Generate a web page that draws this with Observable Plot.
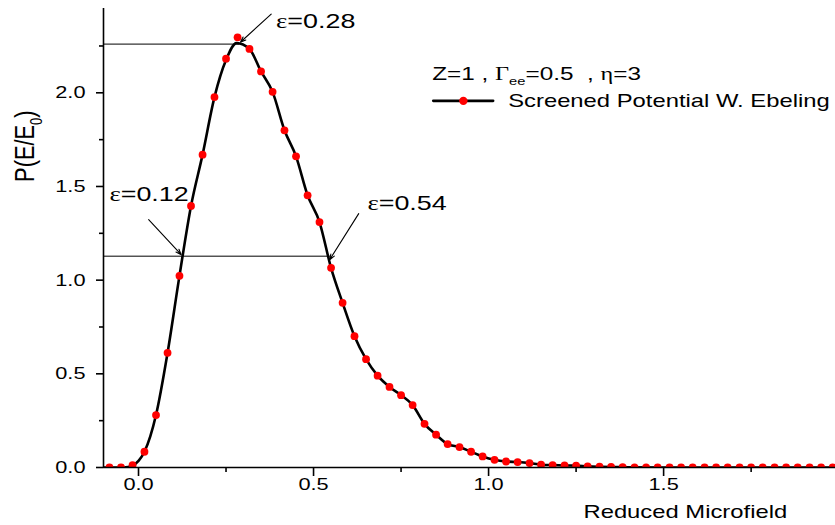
<!DOCTYPE html>
<html>
<head>
<meta charset="utf-8">
<script src="https://cdn.jsdelivr.net/npm/d3@7"></script>
<script src="https://cdn.jsdelivr.net/npm/@observablehq/plot@0.6"></script>
<style>
  html, body { margin: 0; padding: 0; background: #fff; }
  #chart { width: 835px; height: 525px; }
</style>
</head>
<body>
<div id="chart"></div>
<script>
// ---- data ----
const dotX = [-0.083, -0.05, -0.017, 0.017, 0.05, 0.083, 0.117, 0.15, 0.183, 0.217,
  0.25, 0.283, 0.317, 0.35, 0.383, 0.417, 0.45, 0.483, 0.517, 0.55,
  0.583, 0.617, 0.65, 0.683, 0.717, 0.75, 0.783, 0.817, 0.85, 0.883,
  0.917, 0.95, 0.983, 1.017, 1.05, 1.083, 1.117, 1.15, 1.183, 1.217,
  1.25, 1.283, 1.317, 1.35, 1.383, 1.417, 1.45, 1.483, 1.517, 1.55,
  1.583, 1.617, 1.65, 1.683, 1.717, 1.75, 1.783, 1.817, 1.85, 1.883,
  1.917, 1.95, 1.983];
const dotY = [0, 0, 0.012, 0.084, 0.28, 0.612, 1.023, 1.396, 1.670, 1.977,
  2.182, 2.296, 2.234, 2.114, 2.005, 1.80, 1.661, 1.453, 1.310, 1.066,
  0.879, 0.701, 0.578, 0.490, 0.430, 0.386, 0.333, 0.233, 0.175, 0.125,
  0.109, 0.084, 0.059, 0.041, 0.032, 0.029, 0.0235, 0.015, 0.013, 0.011,
  0.010, 0.006, 0.004, 0.003, 0.002, 0.001, 0.001, 0, 0, 0,
  0, 0, 0, 0, 0, 0, 0, 0, 0, 0,
  0, 0, 0];

const lineX = [-0.1, -0.06, -0.03, -0.017, 0, 0.017, 0.05, 0.083, 0.117, 0.15, 0.183, 0.217,
  0.25, 0.28, 0.317, 0.35, 0.383, 0.417, 0.45, 0.483, 0.517, 0.55,
  0.583, 0.617, 0.65, 0.683, 0.717, 0.75, 0.783, 0.817, 0.85, 0.883,
  0.917, 0.95, 0.983, 1.017, 1.05, 1.083, 1.117, 1.15, 1.183, 1.217,
  1.25, 1.283, 1.317, 1.35, 1.4, 1.5, 2.0];
const lineY = [0, 0, 0.003, 0.01, 0.035, 0.084, 0.28, 0.612, 1.023, 1.396, 1.670, 1.977,
  2.175, 2.265, 2.234, 2.114, 2.005, 1.80, 1.661, 1.453, 1.310, 1.066,
  0.879, 0.701, 0.578, 0.490, 0.430, 0.386, 0.333, 0.233, 0.175, 0.125,
  0.109, 0.084, 0.059, 0.041, 0.032, 0.029, 0.0235, 0.015, 0.013, 0.011,
  0.010, 0.006, 0.004, 0.003, 0.001, 0, 0];

const xTicks = [0, 0.5, 1.0, 1.5];
const xMinor = [0.25, 0.75, 1.25, 1.75];
const yTicks = [0, 0.5, 1.0, 1.5, 2.0];
const yMinor = [0.25, 0.75, 1.25, 1.75, 2.25];

// annotations: level lines, arrows and labels
const levelY = [2.26, 1.128];
const levelEnd = [0.29, 0.548];
const epsLabels = ["ε=0.28", "ε=0.12", "ε=0.54"];
const epsLabelX = [0.393, -0.083, 0.654];
const epsLabelY = [2.344, 1.422, 1.376];
const arrowX1 = [0.379, 0.029, 0.629];
const arrowY1 = [2.42, 1.323, 1.355];
const arrowX2 = [0.291, 0.122, 0.546];
const arrowY2 = [2.27, 1.136, 1.109];

const legendTitle = "Z=1 , Γee=0.5  , η=3";
const seriesName = "Screened Potential W. Ebeling";
const xLabel = "Reduced Microfield";
const yLabel = "P(E/E0)";

// ---- build tables ----
const dots = dotX.map((x, i) => ({x, y: dotY[i]}));
const curve = lineX.map((x, i) => ({x, y: lineY[i]}));
const levels = levelY.map((y, i) => ({y, x2: levelEnd[i]}));
const arrows = epsLabels.map((t, i) => ({t, lx: epsLabelX[i], ly: epsLabelY[i],
  x1: arrowX1[i], y1: arrowY1[i], x2: arrowX2[i], y2: arrowY2[i]}));
const fmt = d3.format(".1f");

const plot = Plot.plot({
  width: 835,
  height: 525,
  marginLeft: 103,
  marginRight: 0,
  marginTop: 8,
  marginBottom: 58,
  style: {fontFamily: "Liberation Sans, Arial, sans-serif", fontSize: "17px", background: "#fff", color: "#000"},
  x: {domain: [-0.1, 1.991]},
  y: {domain: [0, 2.45]},
  marks: [
    Plot.ruleY(levels, {y: "y", x1: -0.1, x2: "x2", stroke: "#000", strokeWidth: 1}),
    Plot.line(curve, {x: "x", y: "y", curve: "monotone-x", stroke: "#000", strokeWidth: 2.6, clip: true}),
    Plot.dot(dots, {x: "x", y: "y", r: 3.9, fill: "#ff0000", stroke: "none", clip: true}),
    Plot.arrow(arrows, {x1: "x1", y1: "y1", x2: "x2", y2: "y2", stroke: "#000", strokeWidth: 1.1, headLength: 8, headAngle: 40}),
    Plot.text(arrows, {x: "lx", y: "ly", text: "t", textAnchor: "start", lineAnchor: "bottom", fontSize: 21, fill: "#000"}),
    // axes
    Plot.ruleY([0], {stroke: "#000", strokeWidth: 1.6}),
    Plot.ruleX([-0.1], {stroke: "#000", strokeWidth: 1.6}),
    Plot.axisX({ticks: xTicks, tickSize: 9, tickPadding: 1, tickFormat: fmt, label: null, strokeWidth: 1.6, fontSize: 17}),
    Plot.axisX({ticks: xMinor, tickSize: 5, tickFormat: () => "", label: null, strokeWidth: 1.6}),
    Plot.axisY({ticks: yTicks, tickSize: 7, tickPadding: 11, tickFormat: fmt, label: null, strokeWidth: 1.6, fontSize: 17}),
    Plot.axisY({ticks: yMinor, tickSize: 4, tickFormat: () => "", label: null, strokeWidth: 1.6}),
    Plot.text([xLabel], {x: 1.271, frameAnchor: "bottom", dy: 50, textAnchor: "start", lineAnchor: "bottom", fontSize: 18.6, fill: "#000"}),
    Plot.text([yLabel], {frameAnchor: "left", y: 1.715, dx: -71, rotate: -90, textAnchor: "middle", lineAnchor: "bottom", fontSize: 21.8, fill: "#000"}),
    // legend
    Plot.text([legendTitle], {x: 0.839, y: 2.066, textAnchor: "start", lineAnchor: "bottom", fontSize: 19, fill: "#000"}),
    Plot.line([{x: 0.842, y: 1.957}, {x: 1.013, y: 1.957}], {x: "x", y: "y", stroke: "#000", strokeWidth: 2.6}),
    Plot.dot([{x: 0.928, y: 1.957}], {x: "x", y: "y", r: 4.2, fill: "#ff0000", stroke: "none"}),
    Plot.text([seriesName], {x: 1.056, y: 1.923, textAnchor: "start", lineAnchor: "bottom", fontSize: 18.6, fill: "#000"})
  ]
});

document.getElementById("chart").appendChild(plot);

// ---- rich text (Greek letters in serif, subscripts) ----
const NS = "http://www.w3.org/2000/svg";
function setRich(t, parts) {
  while (t.firstChild) t.removeChild(t.firstChild);
  t.setAttributeNS("http://www.w3.org/XML/1998/namespace", "xml:space", "preserve");
  t.style.whiteSpace = "pre";
  let shift = 0;
  for (const p of parts) {
    const ts = document.createElementNS(NS, "tspan");
    ts.textContent = p.s;
    if (p.serif) ts.setAttribute("font-family", "Liberation Serif, Times New Roman, serif");
    if (p.size) ts.setAttribute("font-size", p.size);
    const target = p.sub || 0;
    if (target !== shift) { ts.setAttribute("dy", target - shift); shift = target; }
    t.appendChild(ts);
  }
}
plot.querySelectorAll("text").forEach(t => {
  const s = t.textContent;
  if (s === legendTitle) {
    setRich(t, [{s: "Z=1 , "}, {s: "Γ", serif: true}, {s: "ee", size: 11.5, sub: 5}, {s: "=0.5  , "}, {s: "η", serif: true}, {s: "=3"}]);
  } else if (s === yLabel) {
    setRich(t, [{s: "P(E/E"}, {s: "0", size: 13, sub: 6}, {s: ")"}]);
  } else if (epsLabels.includes(s)) {
    setRich(t, [{s: "ε", serif: true}, {s: s.slice(1)}]);
  }
});

// ---- horizontal stretch of all text, as in the reference ----
const SX = 1.28;
plot.querySelectorAll("text").forEach(t => {
  if (!t.textContent) return;
  const bb = t.getBBox();
  const anchor = getComputedStyle(t).textAnchor;
  const ax = anchor === "end" ? bb.x + bb.width : anchor === "middle" ? bb.x + bb.width / 2 : bb.x;
  const ay = bb.y + bb.height / 2;
  const old = t.getAttribute("transform") || "";
  const list = t.transform.baseVal;
  const c = list.numberOfItems ? list.consolidate() : null;
  const m = c ? c.matrix : plot.createSVGMatrix();
  const px = m.a * ax + m.c * ay + m.e;
  const py = m.b * ax + m.d * ay + m.f;
  t.setAttribute("transform", `translate(${px},${py}) scale(${SX},1) translate(${-px},${-py}) ${old}`);
});
</script>
</body>
</html>
